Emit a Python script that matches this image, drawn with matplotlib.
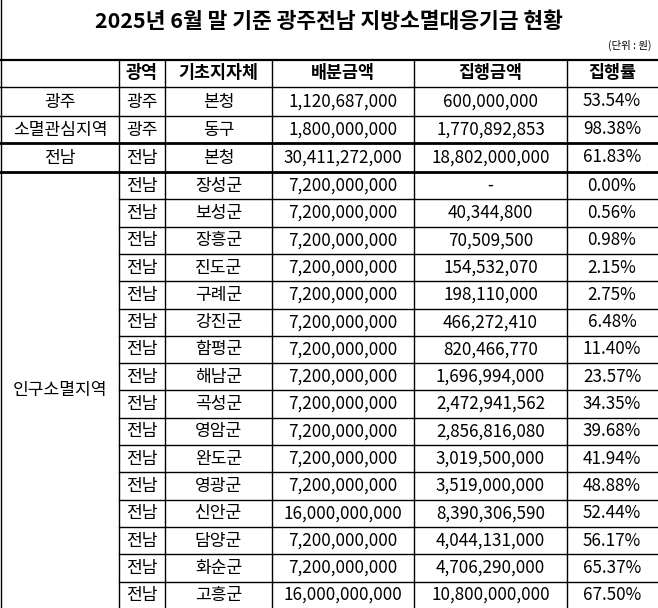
import matplotlib.pyplot as plt

plt.rcParams['font.family'] = ['Noto Sans CJK KR', 'DejaVu Sans']

title = "2025년 6월 말 기준 광주전남 지방소멸대응기금 현황"
unit = "(단위 : 원)"
headers = ["", "광역", "기초지자체", "배분금액", "집행금액", "집행률"]

groups = ["광주", "소멸관심지역", "전남"] + ["인구소멸지역"] * 16
regions = ["광주", "광주", "전남"] + ["전남"] * 16
localities = ["본청", "동구", "본청", "장성군", "보성군", "장흥군", "진도군", "구례군",
              "강진군", "함평군", "해남군", "곡성군", "영암군", "완도군", "영광군",
              "신안군", "담양군", "화순군", "고흥군"]
allocated = [1120687000, 1800000000, 30411272000] + [7200000000] * 12 + \
            [16000000000, 7200000000, 7200000000, 16000000000]
executed = [600000000, 1770892853, 18802000000, 0, 40344800, 70509500, 154532070,
            198110000, 466272410, 820466770, 1696994000, 2472941562, 2856816080,
            3019500000, 3519000000, 8390306590, 4044131000, 4706290000, 10800000000]
rates = [53.54, 98.38, 61.83, 0.00, 0.56, 0.98, 2.15, 2.75, 6.48, 11.40, 23.57,
         34.35, 39.68, 41.94, 48.88, 52.44, 56.17, 65.37, 67.50]

W, H = 658, 608
fig = plt.figure(figsize=(W / 100, H / 100), dpi=100)
ax = fig.add_axes([0, 0, 1, 1])
ax.set_xlim(0, W)
ax.set_ylim(H, 0)
ax.set_axis_off()

col_x = [1, 119, 165, 272, 414, 567, 657]
header_top, header_bot = 60, 87
row_tops = [87, 116, 143] + [172 + i * 27.3 for i in range(16)]
row_bots = row_tops[1:] + [H + 2]

ax.text(329, 21, title, ha='center', va='center', fontsize=15.5, weight='bold')
ax.text(652, 45, unit, ha='right', va='center', fontsize=7.5)

lw = 1.0
k = dict(color='black', lw=lw)
ax.plot([1, 1], [0, H], **k)
ax.plot([0, W], [header_top, header_top], color='black', lw=1.6)
ax.plot([0, W], [header_bot, header_bot], **k)
for i, (t, b) in enumerate(zip(row_tops, row_bots)):
    thick = 2.0 if i in (1, 2) else lw
    if i < 3:
        ax.plot([0, W], [b, b], color='black', lw=thick)
    elif b < H:
        ax.plot([col_x[1], W], [b, b], **k)
for x in col_x[1:-1]:
    ax.plot([x, x], [header_top, H], **k)

cx = [(col_x[i] + col_x[i + 1]) / 2 for i in range(6)]
for j, h in enumerate(headers):
    ax.text(cx[j], (header_top + header_bot) / 2, h, ha='center', va='center',
            fontsize=12.5, weight='bold')

fs = 12.3
for i, (t, b) in enumerate(zip(row_tops, row_bots)):
    b = min(b, H)
    y = (t + b) / 2
    if i < 3:
        ax.text(cx[0], y, groups[i], ha='center', va='center', fontsize=fs)
    ax.text(cx[1], y, regions[i], ha='center', va='center', fontsize=fs)
    ax.text(cx[2], y, localities[i], ha='center', va='center', fontsize=fs)
    ax.text(cx[3], y, f"{allocated[i]:,}", ha='center', va='center', fontsize=fs)
    ex = "-" if executed[i] == 0 else f"{executed[i]:,}"
    ax.text(cx[4], y, ex, ha='center', va='center', fontsize=fs)
    ax.text(cx[5], y, f"{rates[i]:.2f}%", ha='center', va='center', fontsize=fs)

ax.text(cx[0], (row_tops[3] + H) / 2, groups[3], ha='center', va='center', fontsize=fs)

fig.savefig("out.png", dpi=100)
